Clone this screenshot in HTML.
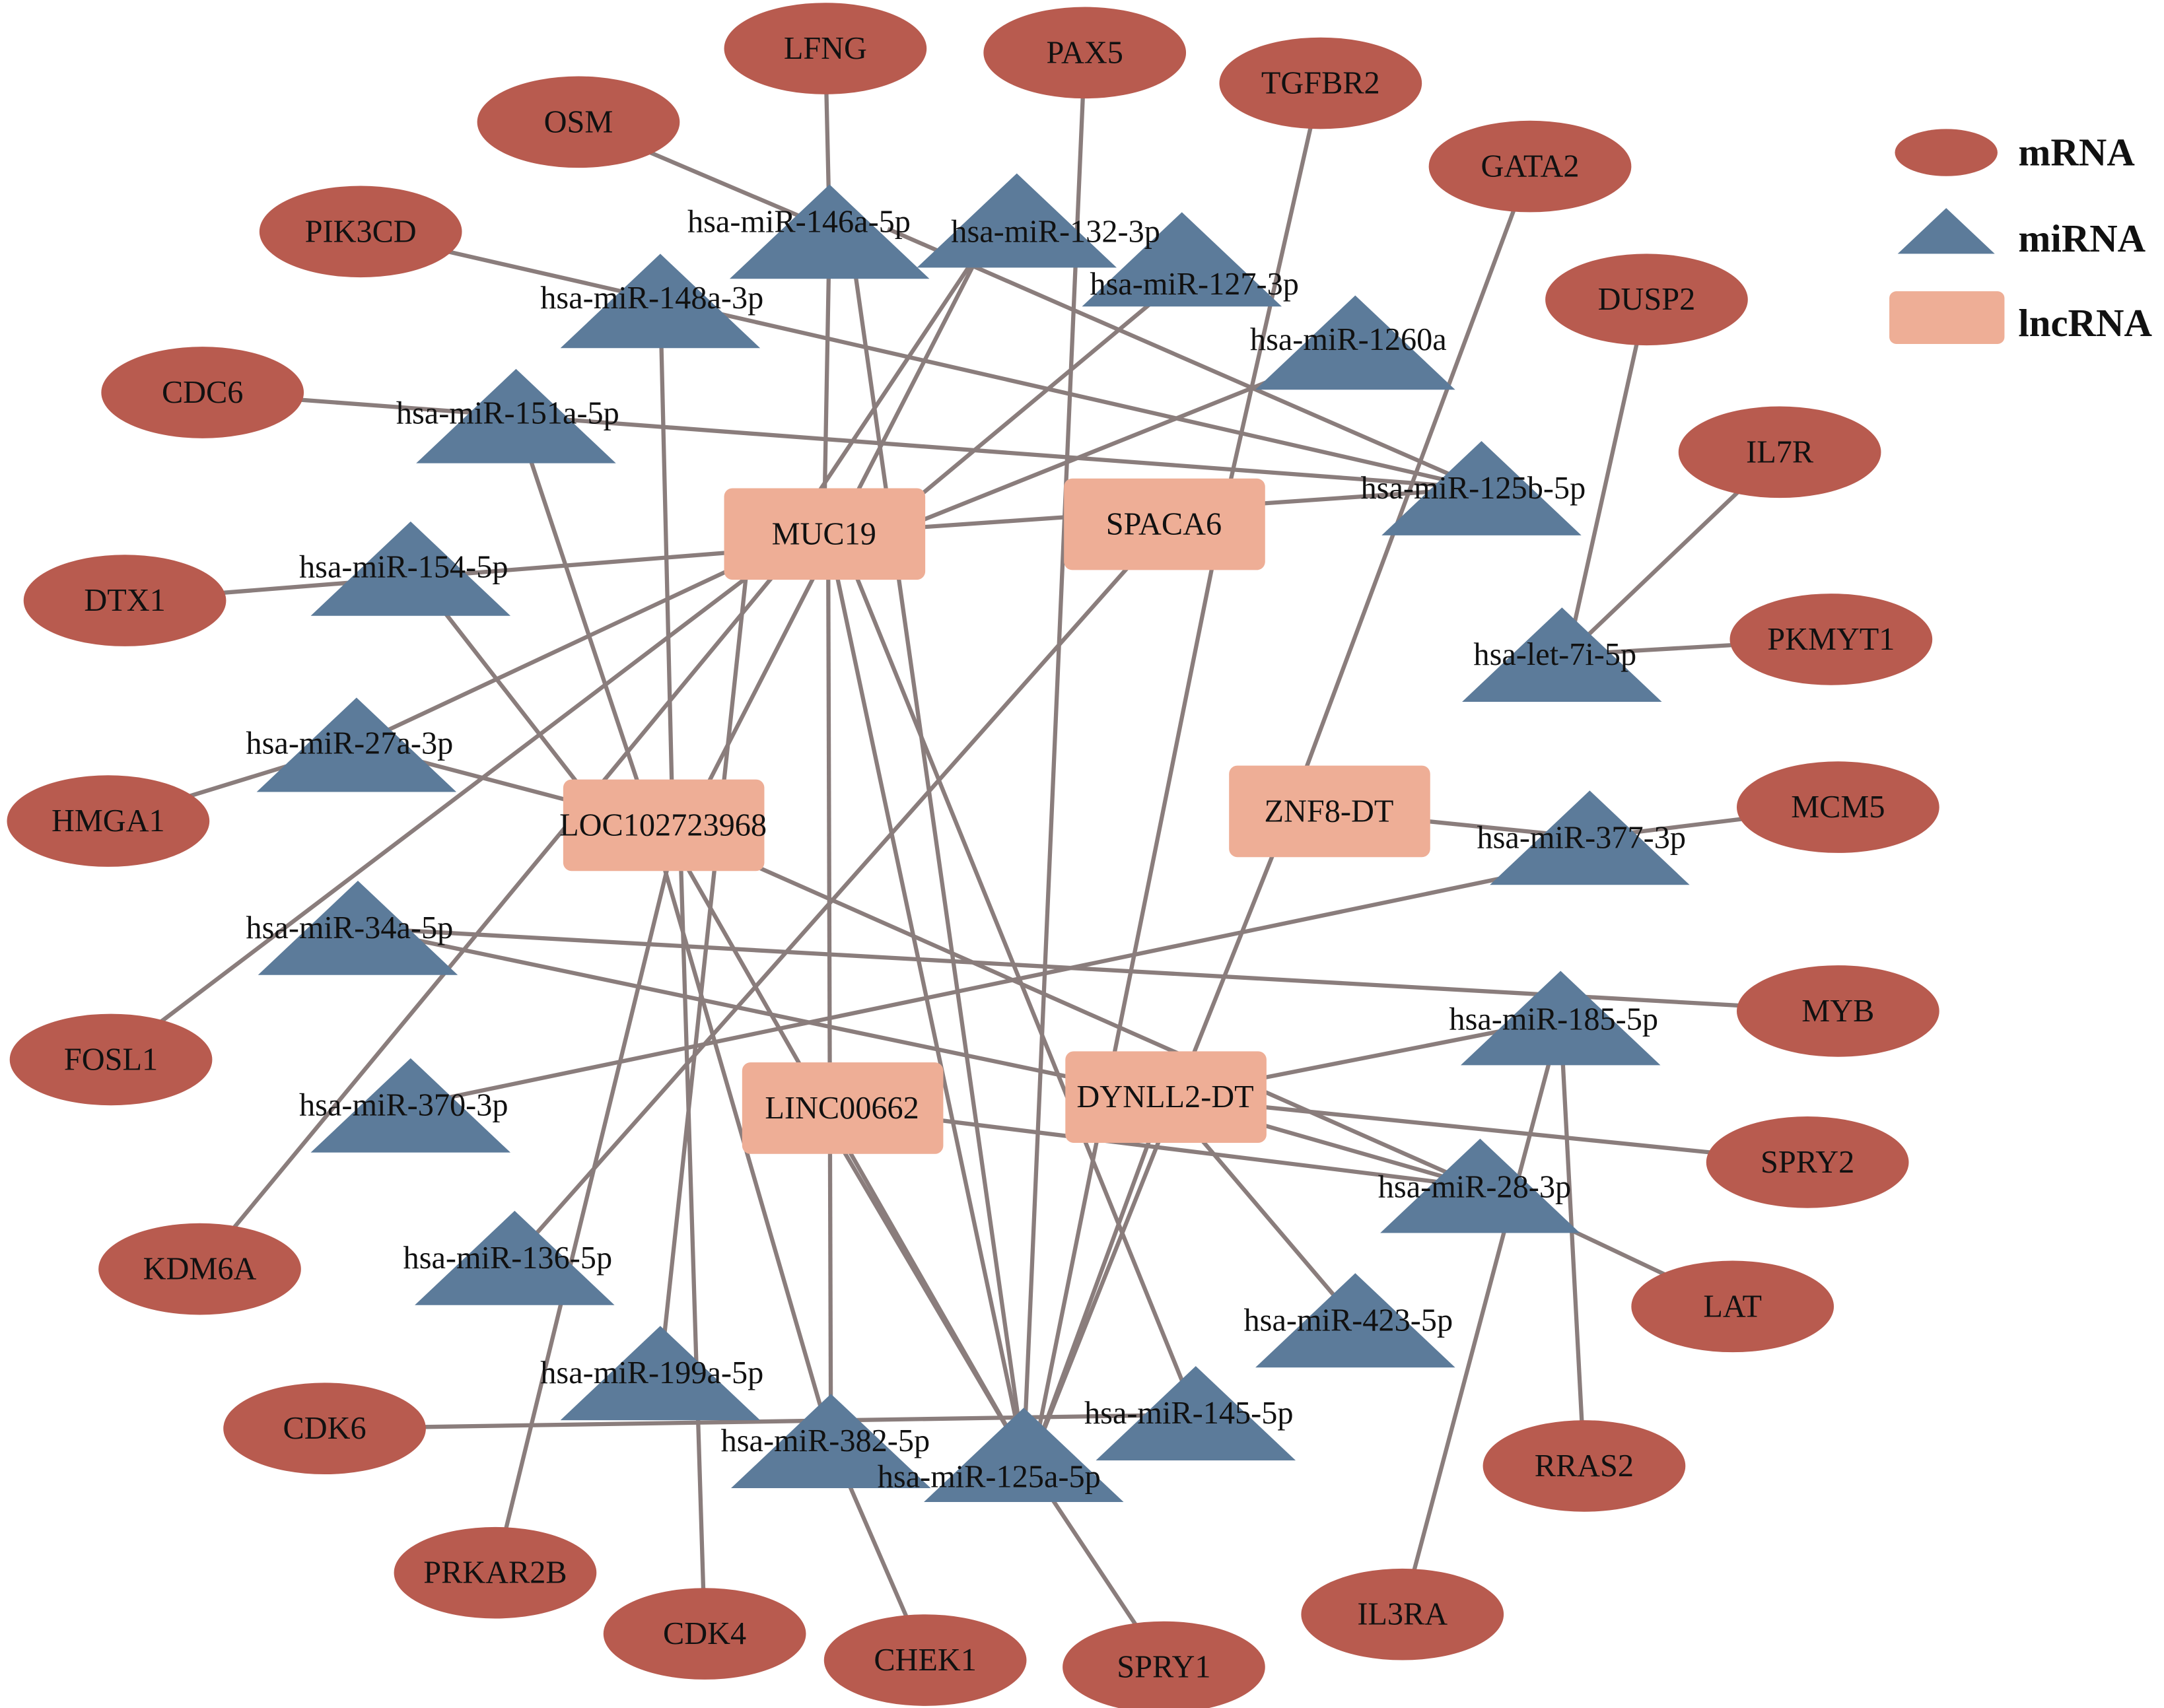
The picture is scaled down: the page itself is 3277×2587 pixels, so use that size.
<!DOCTYPE html>
<html><head><meta charset="utf-8"><style>
html,body{margin:0;padding:0;background:#fff;}
svg{display:block}
text{font-family:"Liberation Serif",serif;}
</style></head><body>
<svg width="3277" height="2587" viewBox="0 0 1560 1231.5" preserveAspectRatio="none" xmlns="http://www.w3.org/2000/svg">
<g stroke="#8a7d7c" stroke-width="3" fill="none">
<line x1="417" y1="88" x2="598" y2="165"/>
<line x1="595" y1="35" x2="598" y2="165"/>
<line x1="598" y1="165" x2="594" y2="385"/>
<line x1="612" y1="165" x2="738" y2="1050"/>
<line x1="782" y1="38" x2="738" y2="1050"/>
<line x1="952" y1="60" x2="880" y2="378"/>
<line x1="880" y1="378" x2="745" y2="1050"/>
<line x1="1103" y1="120" x2="930" y2="585"/>
<line x1="260" y1="167" x2="1068" y2="352"/>
<line x1="476" y1="217" x2="485" y2="595"/>
<line x1="640" y1="165" x2="1068" y2="352"/>
<line x1="710" y1="175" x2="570" y2="385"/>
<line x1="710" y1="175" x2="495" y2="595"/>
<line x1="852" y1="200" x2="630" y2="385"/>
<line x1="977" y1="250" x2="640" y2="385"/>
<line x1="146" y1="283" x2="1068" y2="352"/>
<line x1="594" y1="385" x2="1068" y2="352"/>
<line x1="372" y1="300" x2="470" y2="595"/>
<line x1="90" y1="433" x2="594" y2="393"/>
<line x1="296" y1="410" x2="440" y2="595"/>
<line x1="1187" y1="216" x2="1130" y2="472"/>
<line x1="1283" y1="326" x2="1130" y2="472"/>
<line x1="1320" y1="461" x2="1130" y2="472"/>
<line x1="78" y1="592" x2="257" y2="537"/>
<line x1="257" y1="537" x2="560" y2="395"/>
<line x1="257" y1="537" x2="478" y2="595"/>
<line x1="80" y1="764" x2="560" y2="400"/>
<line x1="144" y1="915" x2="570" y2="400"/>
<line x1="830" y1="390" x2="371" y2="907"/>
<line x1="958" y1="585" x2="1146" y2="604"/>
<line x1="1146" y1="604" x2="1325" y2="582"/>
<line x1="1146" y1="620" x2="296" y2="797"/>
<line x1="930" y1="585" x2="745" y2="1050"/>
<line x1="258" y1="669" x2="1325" y2="729"/>
<line x1="258" y1="669" x2="840" y2="791"/>
<line x1="478" y1="595" x2="1067" y2="856"/>
<line x1="840" y1="791" x2="1125" y2="735"/>
<line x1="840" y1="791" x2="1303" y2="838"/>
<line x1="840" y1="791" x2="1067" y2="856"/>
<line x1="1067" y1="856" x2="1249" y2="942"/>
<line x1="840" y1="791" x2="977" y2="952"/>
<line x1="840" y1="791" x2="745" y2="1050"/>
<line x1="1125" y1="735" x2="1142" y2="1057"/>
<line x1="1125" y1="735" x2="1011" y2="1164"/>
<line x1="607" y1="799" x2="1067" y2="856"/>
<line x1="590" y1="799" x2="738" y2="1050"/>
<line x1="597" y1="385" x2="599" y2="1040"/>
<line x1="597" y1="385" x2="738" y2="1050"/>
<line x1="605" y1="385" x2="862" y2="1020"/>
<line x1="540" y1="395" x2="476" y2="990"/>
<line x1="470" y1="595" x2="599" y2="1040"/>
<line x1="478" y1="595" x2="738" y2="1050"/>
<line x1="490" y1="595" x2="508" y2="1178"/>
<line x1="485" y1="610" x2="357" y2="1134"/>
<line x1="234" y1="1030" x2="862" y2="1020"/>
<line x1="599" y1="1040" x2="667" y2="1197"/>
<line x1="738" y1="1050" x2="839" y2="1202"/>
</g>
<g fill="#b85b4f">
<ellipse cx="595" cy="35" rx="73" ry="33"/>
<ellipse cx="782" cy="38" rx="73" ry="33"/>
<ellipse cx="417" cy="88" rx="73" ry="33"/>
<ellipse cx="952" cy="60" rx="73" ry="33"/>
<ellipse cx="1103" cy="120" rx="73" ry="33"/>
<ellipse cx="260" cy="167" rx="73" ry="33"/>
<ellipse cx="1187" cy="216" rx="73" ry="33"/>
<ellipse cx="146" cy="283" rx="73" ry="33"/>
<ellipse cx="1283" cy="326" rx="73" ry="33"/>
<ellipse cx="90" cy="433" rx="73" ry="33"/>
<ellipse cx="1320" cy="461" rx="73" ry="33"/>
<ellipse cx="78" cy="592" rx="73" ry="33"/>
<ellipse cx="1325" cy="582" rx="73" ry="33"/>
<ellipse cx="1325" cy="729" rx="73" ry="33"/>
<ellipse cx="80" cy="764" rx="73" ry="33"/>
<ellipse cx="1303" cy="838" rx="73" ry="33"/>
<ellipse cx="144" cy="915" rx="73" ry="33"/>
<ellipse cx="1249" cy="942" rx="73" ry="33"/>
<ellipse cx="234" cy="1030" rx="73" ry="33"/>
<ellipse cx="1142" cy="1057" rx="73" ry="33"/>
<ellipse cx="357" cy="1134" rx="73" ry="33"/>
<ellipse cx="1011" cy="1164" rx="73" ry="33"/>
<ellipse cx="508" cy="1178" rx="73" ry="33"/>
<ellipse cx="667" cy="1197" rx="73" ry="33"/>
<ellipse cx="839" cy="1202" rx="73" ry="33"/>
<ellipse cx="1403" cy="110" rx="37" ry="17"/>
</g>
<g fill="#5c7b9a">
<polygon points="598,133 526,201 670,201"/>
<polygon points="733,125 661,193 805,193"/>
<polygon points="852,153 780,221 924,221"/>
<polygon points="476,183 404,251 548,251"/>
<polygon points="977,213 905,281 1049,281"/>
<polygon points="372,266 300,334 444,334"/>
<polygon points="1068,318 996,386 1140,386"/>
<polygon points="296,376 224,444 368,444"/>
<polygon points="1126,438 1054,506 1198,506"/>
<polygon points="257,503 185,571 329,571"/>
<polygon points="1146,570 1074,638 1218,638"/>
<polygon points="258,635 186,703 330,703"/>
<polygon points="1125,700 1053,768 1197,768"/>
<polygon points="296,763 224,831 368,831"/>
<polygon points="1067,821 995,889 1139,889"/>
<polygon points="371,873 299,941 443,941"/>
<polygon points="977,918 905,986 1049,986"/>
<polygon points="476,956 404,1024 548,1024"/>
<polygon points="862,985 790,1053 934,1053"/>
<polygon points="599,1005 527,1073 671,1073"/>
<polygon points="738,1015 666,1083 810,1083"/>
<polygon points="1403,150 1368,183 1438,183"/>
</g>
<g fill="#eeae96">
<rect x="522" y="352" width="145" height="66" rx="6"/>
<rect x="767" y="345" width="145" height="66" rx="6"/>
<rect x="406" y="562" width="145" height="66" rx="6"/>
<rect x="886" y="552" width="145" height="66" rx="6"/>
<rect x="535" y="766" width="145" height="66" rx="6"/>
<rect x="768" y="758" width="145" height="66" rx="6"/>
<rect x="1362" y="210" width="83" height="38" rx="5"/>
</g>
<g font-size="23" fill="#111" text-anchor="middle" dominant-baseline="central">
<text x="595" y="35">LFNG</text><text x="782" y="38">PAX5</text><text x="417" y="88">OSM</text>
<text x="952" y="60">TGFBR2</text><text x="1103" y="120">GATA2</text><text x="260" y="167">PIK3CD</text>
<text x="1187" y="216">DUSP2</text><text x="146" y="283">CDC6</text><text x="1283" y="326">IL7R</text>
<text x="90" y="433">DTX1</text><text x="1320" y="461">PKMYT1</text><text x="78" y="592">HMGA1</text>
<text x="1325" y="582">MCM5</text><text x="1325" y="729">MYB</text><text x="80" y="764">FOSL1</text>
<text x="1303" y="838">SPRY2</text><text x="144" y="915">KDM6A</text><text x="1249" y="942">LAT</text>
<text x="234" y="1030">CDK6</text><text x="1142" y="1057">RRAS2</text><text x="357" y="1134">PRKAR2B</text>
<text x="1011" y="1164">IL3RA</text><text x="508" y="1178">CDK4</text><text x="667" y="1197">CHEK1</text>
<text x="839" y="1202">SPRY1</text>
<text x="594" y="385">MUC19</text><text x="839" y="378">SPACA6</text><text x="478" y="595">LOC102723968</text>
<text x="958" y="585">ZNF8-DT</text><text x="607" y="799">LINC00662</text><text x="840" y="791">DYNLL2-DT</text>
<text x="576" y="160">hsa-miR-146a-5p</text><text x="761" y="167">hsa-miR-132-3p</text>
<text x="861" y="205">hsa-miR-127-3p</text><text x="470" y="215">hsa-miR-148a-3p</text>
<text x="972" y="245">hsa-miR-1260a</text><text x="366" y="298">hsa-miR-151a-5p</text>
<text x="1062" y="352">hsa-miR-125b-5p</text><text x="291" y="409">hsa-miR-154-5p</text>
<text x="1121" y="472">hsa-let-7i-5p</text><text x="252" y="536">hsa-miR-27a-3p</text>
<text x="1140" y="604">hsa-miR-377-3p</text><text x="252" y="669">hsa-miR-34a-5p</text>
<text x="1120" y="735">hsa-miR-185-5p</text><text x="291" y="797">hsa-miR-370-3p</text>
<text x="1063" y="856">hsa-miR-28-3p</text><text x="366" y="907">hsa-miR-136-5p</text>
<text x="972" y="952">hsa-miR-423-5p</text><text x="470" y="990">hsa-miR-199a-5p</text>
<text x="857" y="1019">hsa-miR-145-5p</text><text x="595" y="1039">hsa-miR-382-5p</text>
<text x="713" y="1065">hsa-miR-125a-5p</text>
</g>
<g font-size="28" font-weight="bold" fill="#111" dominant-baseline="central">
<text x="1455" y="110">mRNA</text><text x="1455" y="172">miRNA</text><text x="1455" y="233">lncRNA</text>
</g>
</svg>
</body></html>
